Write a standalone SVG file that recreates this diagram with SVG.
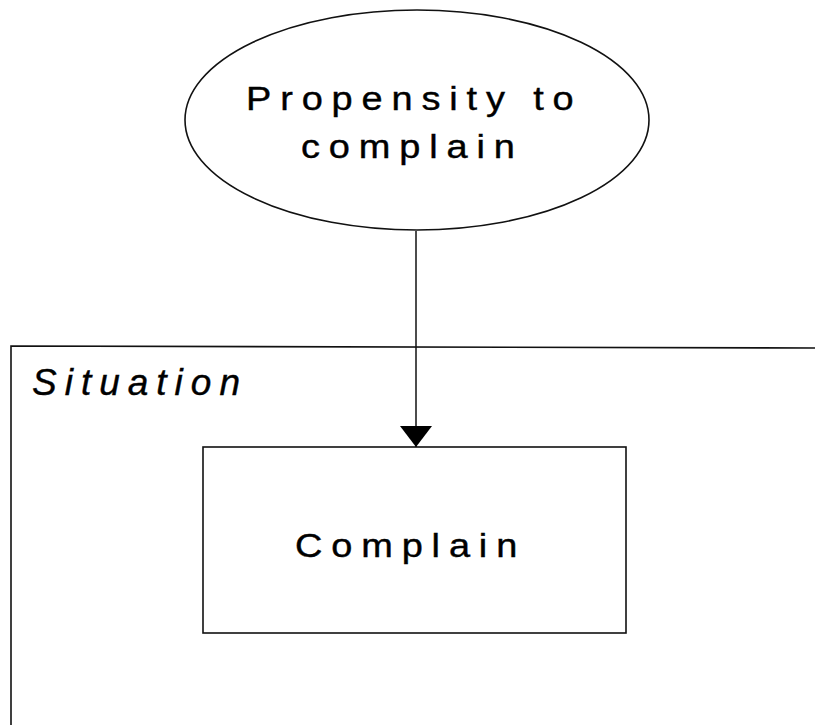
<svg xmlns="http://www.w3.org/2000/svg" width="815" height="725" viewBox="0 0 815 725">
  <style>
    .shape { fill: #ffffff; stroke: #111111; stroke-width: 1.6; }
    .frame { fill: none; stroke: #111111; stroke-width: 1.6; }
    .conn { fill: none; stroke: #111111; stroke-width: 1.5; }
    .label { font-family: "Liberation Sans", Arial, sans-serif; font-size: 33px; fill: #000000; stroke: #000000; stroke-width: 0.4; letter-spacing: 7.7px; }
    .title { font-family: "Liberation Sans", Arial, sans-serif; font-size: 37px; font-style: italic; fill: #000000; stroke: #000000; stroke-width: 0.4; letter-spacing: 8px; }
  </style>
  <defs>
    <marker id="arrow" markerUnits="userSpaceOnUse" markerWidth="22" markerHeight="32" refX="21" refY="16" orient="auto">
      <path d="M0,0 L21,16 L0,32 Z" fill="#000000"/>
    </marker>
  </defs>
  <rect width="815" height="725" fill="#ffffff"/>
  <g id="situation">
    <path class="frame" d="M11,725 L11,346 L815,348"/>
    <text class="title" x="32" y="395">Situation</text>
  </g>
  <g id="propensity">
    <ellipse class="shape" cx="417" cy="120" rx="232" ry="110"/>
    <text class="label" transform="translate(246,110) scale(1.15,1)" x="0" y="0">Propensity to</text>
    <text class="label" transform="translate(301,158) scale(1.15,1)" x="0" y="0">complain</text>
  </g>
  <g id="complain">
    <rect class="shape" x="203" y="447" width="423" height="186"/>
    <text class="label" transform="translate(295,557) scale(1.15,1)" x="0" y="0">Complain</text>
  </g>
  <g id="connectors">
    <path class="conn" d="M416,231 L416,447" marker-end="url(#arrow)"/>
  </g>
</svg>
